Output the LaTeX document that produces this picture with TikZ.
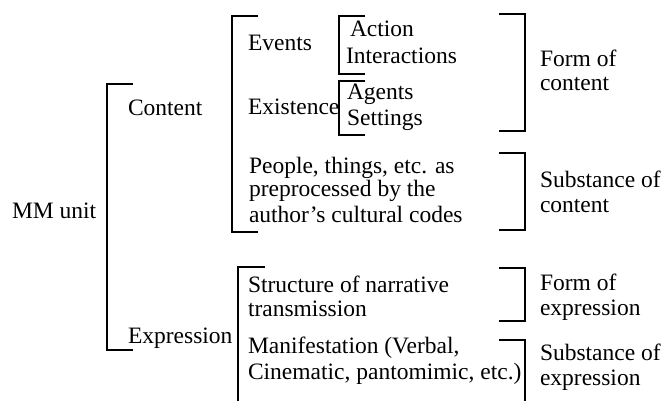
\documentclass[tikz,border=0pt]{standalone}
\usepackage{fontspec}
\setmainfont{Liberation Serif}
\begin{document}
\begin{tikzpicture}[x=0.5pt,y=-0.5pt,
  lbl/.style={anchor=base west,inner sep=0pt,outer sep=0pt,font=\fontsize{11.75}{14}\selectfont},
  brk/.style={line width=0.9pt}]
\useasboundingbox (0,0) rectangle (664,401);
% text
\node[lbl] (mm) at (12,219) {MM unit};
\node[lbl] (content) at (128,116) {Content};
\node[lbl] (expression) at (128,343) {Expression};
\node[lbl] (events) at (248,51) {Events};
\node[lbl] (existence) at (248,115) {Existence};
\node[lbl] (action) at (350,37) {Action};
\node[lbl] (interactions) at (346,64) {Interactions};
\node[lbl] (agents) at (347,100) {Agents};
\node[lbl] (settings) at (347,126) {Settings};
\node[lbl] (people1) at (249,173) {People, things, etc. as};
\node[lbl] (people2) at (249,197) {preprocessed by the};
\node[lbl] (people3) at (249,222) {author’s cultural codes};
\node[lbl] (struct1) at (248,292) {Structure of narrative};
\node[lbl] (struct2) at (248,316) {transmission};
\node[lbl] (manif1) at (248,353) {Manifestation (Verbal,};
\node[lbl] (manif2) at (248,379) {Cinematic, pantomimic, etc.)};
\node[lbl] (foc1) at (540,67) {Form of};
\node[lbl] (foc2) at (540,91) {content};
\node[lbl] (soc1) at (540,187) {Substance of};
\node[lbl] (soc2) at (540,213) {content};
\node[lbl] (foe1) at (540,290) {Form of};
\node[lbl] (foe2) at (540,315) {expression};
\node[lbl] (soe1) at (540,360) {Substance of};
\node[lbl] (soe2) at (540,385) {expression};
% bracket corner coordinates
\coordinate (mmT) at (107,84);   \coordinate (mmB) at (107,350);
\coordinate (cT) at (232,16);    \coordinate (cB) at (232,232);
\coordinate (evT) at (339,16);   \coordinate (evB) at (339,74);
\coordinate (exT) at (339,81);   \coordinate (exB) at (339,135);
\coordinate (eT) at (238,267);   \coordinate (eB) at (238,401);
\coordinate (focT) at (525,14);  \coordinate (focB) at (525,131);
\coordinate (socT) at (525,153); \coordinate (socB) at (525,230);
\coordinate (foeT) at (525,268); \coordinate (foeB) at (525,321);
\coordinate (soeT) at (525,340); \coordinate (soeB) at (525,401);
% left brackets
\draw[brk] ([xshift=13pt]mmT) -- (mmT) -- (mmB) -- ([xshift=13pt]mmB);
\draw[brk] ([xshift=13pt]cT) -- (cT) -- (cB) -- ([xshift=13pt]cB);
\draw[brk] ([xshift=13pt]evT) -- (evT) -- (evB) -- ([xshift=13pt]evB);
\draw[brk] ([xshift=13pt]exT) -- (exT) -- (exB) -- ([xshift=13pt]exB);
\draw[brk] ([xshift=13.5pt]eT) -- (eT) -- (eB);
% right brackets
\draw[brk] ([xshift=-13pt]focT) -- (focT) -- (focB) -- ([xshift=-13pt]focB);
\draw[brk] ([xshift=-13pt]socT) -- (socT) -- (socB) -- ([xshift=-13pt]socB);
\draw[brk] ([xshift=-13pt]foeT) -- (foeT) -- (foeB) -- ([xshift=-13pt]foeB);
\draw[brk] ([xshift=-13pt]soeT) -- (soeT) -- (soeB);
\end{tikzpicture}
\end{document}
